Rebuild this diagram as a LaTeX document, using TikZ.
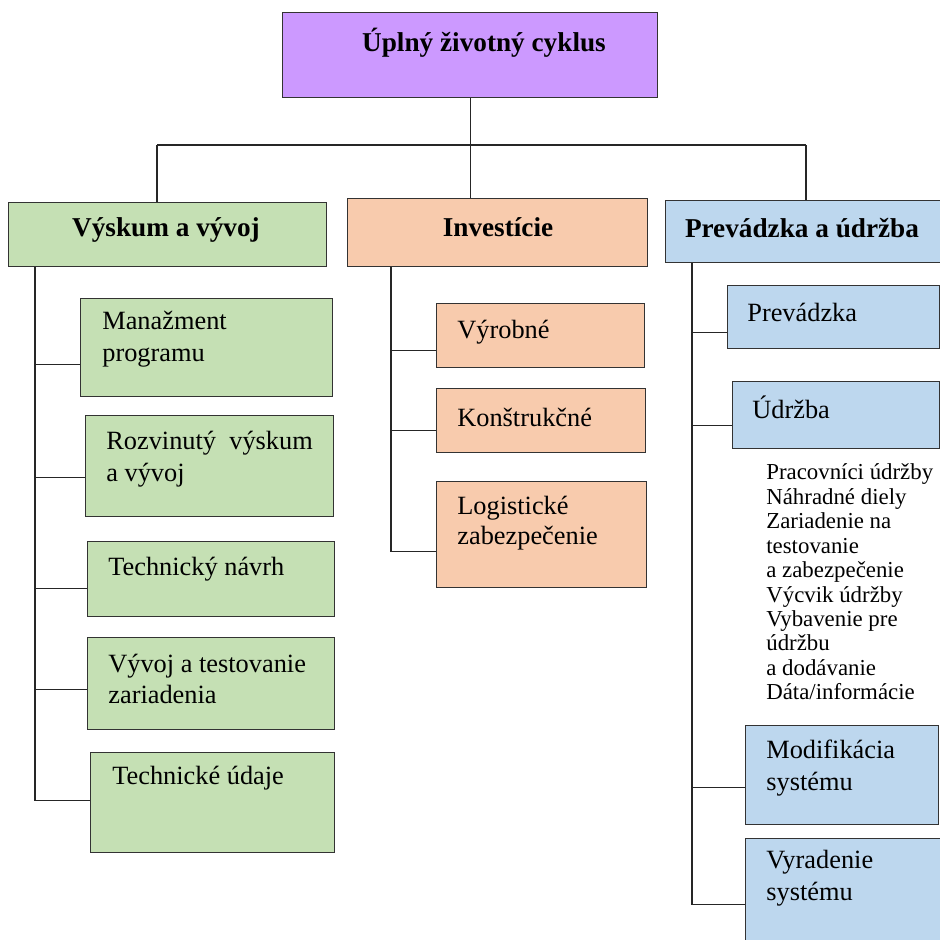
\documentclass[tikz,border=0pt]{standalone}
\usepackage{fontspec}
\setmainfont{Liberation Serif}
\definecolor{lila}{RGB}{204,153,255}
\definecolor{zelena}{RGB}{197,224,180}
\definecolor{oranz}{RGB}{248,203,173}
\definecolor{modra}{RGB}{189,215,238}
\tikzset{
  box/.style={draw=black!80, line width=0.7pt, anchor=north west, inner sep=0pt},
  head/.style={font=\fontsize{15.5}{18}\selectfont\bfseries, inner sep=0pt},
  item/.style={font=\fontsize{15}{18}\selectfont, align=left, anchor=west, inner sep=0pt},
  zoznam/.style={font=\fontsize{13}{13.9}\selectfont, align=left, anchor=west, inner sep=0pt},
  spoj/.style={line width=0.6pt, black!85},
}
\begin{document}
\begin{tikzpicture}[x=0.02cm, y=-0.02cm]
\useasboundingbox (0,0) rectangle (940,940);
\clip (0,0) rectangle (940,940);
\fill[white] (0,0) rectangle (940,940);

% vrch
\node[box, fill=lila, minimum width=7.5cm, minimum height=1.7cm] (top) at (282,12) {};
\node[head] (topt) at (484,43) {Úplný životný cyklus};

% prva uroven
\node[box, fill=zelena, minimum width=6.36cm, minimum height=1.28cm] (vv) at (8,202) {};
\node[head] (vvt) at (166,230) {Výskum a vývoj};
\node[box, fill=oranz, minimum width=6.0cm, minimum height=1.36cm] (inv) at (347,198) {};
\node[head] (invt) at (498,227) {Investície};
\node[box, fill=modra, minimum width=5.6cm, minimum height=1.24cm] (pu) at (665,200) {};
\node[head] (put) at (802,228) {Prevádzka a údržba};

\coordinate (bl) at (157,145);
\coordinate (br) at (806,145);
\draw[spoj] (bl) -- (br);
\draw[spoj] (top.south) -- (top.south |- inv.north);
\draw[spoj] (bl) -- (bl |- vv.north);
\draw[spoj] (br) -- (br |- pu.north);

% vyskum a vyvoj
\node[box, fill=zelena, minimum width=5.04cm, minimum height=1.96cm] (mp) at (80,298) {};
\node[item] (mpt) at (102,339) {Manažment\\programu};
\node[box, fill=zelena, minimum width=4.96cm, minimum height=2.02cm] (rv) at (85,415) {};
\node[item] (rvt) at (106,459) {Rozvinutý\ \ výskum\\a vývoj};
\node[box, fill=zelena, minimum width=4.94cm, minimum height=1.5cm] (tn) at (87,541) {};
\node[item] (tnt) at (108,569) {Technický návrh};
\node[box, fill=zelena, minimum width=4.94cm, minimum height=1.84cm] (vt) at (87,637) {};
\node[item] (vtt) at (108,679) {Vývoj a testovanie\\zariadenia};
\node[box, fill=zelena, minimum width=4.88cm, minimum height=2.0cm] (tu) at (90,752) {};
\node[item] (tut) at (112,778) {Technické údaje};

\coordinate (vvs) at ([xshift=0.54cm]vv.south west);
\foreach \b/\s in {mp/-0.34, rv/-0.23, tn/-0.19, vt/-0.12, tu/0.04}
  \draw[spoj] (vvs) |- ([yshift=\s cm]\b.west);

% investicie
\node[box, fill=oranz, minimum width=4.16cm, minimum height=1.28cm] (vy) at (436,303) {};
\node[item] (vyt) at (457,332) {Výrobné};
\node[box, fill=oranz, minimum width=4.18cm, minimum height=1.28cm] (ko) at (436,388) {};
\node[item] (kot) at (457,417) {Konštrukčné};
\node[box, fill=oranz, minimum width=4.2cm, minimum height=2.12cm] (lz) at (436,481) {};
\node[item] (lzt) at (457,523) {Logistické\\[-1pt]zabezpečenie};

\coordinate (invs) at ([xshift=0.88cm]inv.south west);
\foreach \b/\s in {vy/-0.3, ko/-0.2, lz/-0.34}
  \draw[spoj] (invs) |- ([yshift=\s cm]\b.west);

% prevadzka a udrzba
\node[box, fill=modra, minimum width=4.24cm, minimum height=1.26cm] (pr) at (727,285) {};
\node[item] (prt) at (747,312) {Prevádzka};
\node[box, fill=modra, minimum width=4.14cm, minimum height=1.34cm] (ud) at (732,381) {};
\node[item] (udt) at (752,407) {Údržba};
\node[zoznam] (udz) at (766,582) {Pracovníci údržby\\Náhradné diely\\Zariadenie na\\testovanie\\a zabezpečenie\\Výcvik údržby\\Vybavenie pre\\údržbu\\a dodávanie\\Dáta/informácie};
\node[box, fill=modra, minimum width=3.86cm, minimum height=1.98cm] (ms) at (745,725) {};
\node[item] (mst) at (766,768) {Modifikácia\\systému};
\node[box, fill=modra, minimum width=4.1cm, minimum height=2.3cm] (vs) at (745,838) {};
\node[item] (vst) at (766,878) {Vyradenie\\systému};

\coordinate (pus) at ([xshift=0.54cm]pu.south west);
\foreach \b/\s in {pr/-0.31, ud/-0.21, ms/-0.25, vs/-0.16}
  \draw[spoj] (pus) |- ([yshift=\s cm]\b.west);
\end{tikzpicture}
\end{document}
